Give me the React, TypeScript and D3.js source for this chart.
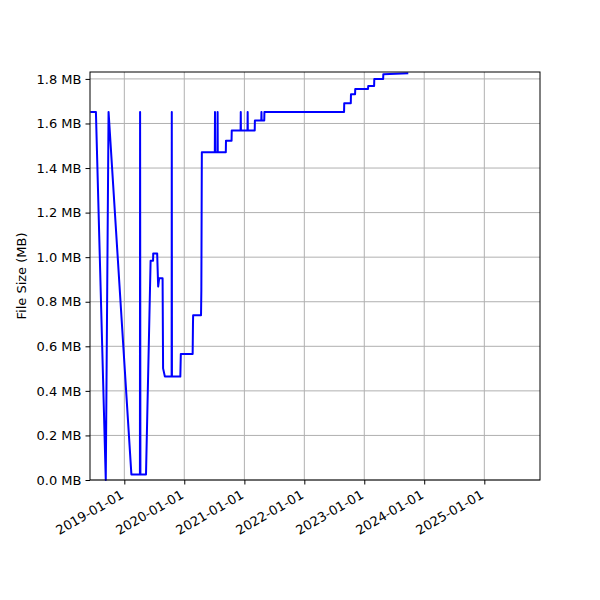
import { useEffect, useRef } from "react";
import * as d3 from "d3";

// file size history
const dates = [
  "2018-06-08", "2018-07-12", "2018-09-10", "2018-09-27", "2019-02-13",
  "2019-04-06", "2019-04-07", "2019-04-09", "2019-05-13", "2019-06-10",
  "2019-06-25", "2019-06-26", "2019-07-20", "2019-07-26", "2019-08-01",
  "2019-08-22", "2019-08-25", "2019-09-05", "2019-10-16", "2019-10-17",
  "2019-10-18", "2019-12-08", "2019-12-11", "2020-02-21", "2020-02-23",
  "2020-02-24", "2020-04-12", "2020-04-14", "2020-04-17", "2020-07-05",
  "2020-07-06", "2020-07-07", "2020-07-21", "2020-07-22", "2020-07-23",
  "2020-09-10", "2020-09-11", "2020-10-15", "2020-10-16", "2020-12-09",
  "2020-12-10", "2020-12-11", "2021-01-20", "2021-01-21", "2021-01-22",
  "2021-03-05", "2021-03-06", "2021-04-14", "2021-04-15", "2021-04-16",
  "2021-05-02", "2021-05-03", "2022-08-31", "2022-09-01", "2022-10-11",
  "2022-10-12", "2022-11-06", "2022-11-07", "2023-01-24", "2023-01-25",
  "2023-03-02", "2023-03-03", "2023-04-26", "2023-04-27", "2023-09-26",
];
const sizesMB = [
  1.652, 1.652, 0.0, 1.652, 0.025,
  0.025, 1.652, 0.025, 0.025, 0.984,
  0.984, 1.017, 1.017, 0.868, 0.905,
  0.905, 0.501, 0.464, 0.464, 1.652,
  0.464, 0.464, 0.566, 0.566, 0.7,
  0.739, 0.739, 0.853, 1.471, 1.471,
  1.652, 1.471, 1.471, 1.652, 1.471,
  1.471, 1.523, 1.523, 1.568, 1.568,
  1.652, 1.568, 1.568, 1.652, 1.568,
  1.568, 1.613, 1.613, 1.652, 1.613,
  1.613, 1.652, 1.652, 1.691, 1.691,
  1.731, 1.731, 1.755, 1.755, 1.768,
  1.768, 1.8, 1.8, 1.821, 1.825,
];
const xDomain = ["2018-06-06", "2025-12-06"];
const yMax = 1.831;
const yTicks = [0, 0.2, 0.4, 0.6, 0.8, 1.0, 1.2, 1.4, 1.6, 1.8];
const yLabel = "File Size (MB)";

const App = () => {
  const ref = useRef<SVGSVGElement>(null);

  useEffect(() => {
    const margin = { top: 72, right: 60, bottom: 120, left: 90 };
    const width = 600 - margin.left - margin.right;
    const height = 600 - margin.top - margin.bottom;
    const parse = d3.utcParse("%Y-%m-%d");
    const font = "DejaVu Sans, sans-serif";
    const fontSize = 13;

    const svg = d3.select(ref.current);
    svg.selectAll("*").remove();
    const g = svg
      .append("g")
      .attr("transform", `translate(${margin.left},${margin.top})`);

    const x = d3
      .scaleUtc()
      .domain(xDomain.map((d) => parse(d)!))
      .range([0, width]);
    const y = d3.scaleLinear().domain([0, yMax]).range([height, 0]);

    const xTicks = d3.utcYear.range(
      parse("2019-01-01")!,
      parse("2025-06-01")!,
    );

    // grid
    g.append("g")
      .selectAll("line")
      .data(xTicks)
      .enter()
      .append("line")
      .attr("x1", (d) => x(d))
      .attr("x2", (d) => x(d))
      .attr("y1", 0)
      .attr("y2", height)
      .style("stroke", "#b0b0b0")
      .style("stroke-width", 1);
    g.append("g")
      .selectAll("line")
      .data(yTicks)
      .enter()
      .append("line")
      .attr("x1", 0)
      .attr("x2", width)
      .attr("y1", (d) => y(d))
      .attr("y2", (d) => y(d))
      .style("stroke", "#b0b0b0")
      .style("stroke-width", 1);

    // the line
    const points = dates.map((d, i) => ({ date: parse(d)!, value: sizesMB[i] }));
    const line = d3
      .line<{ date: Date; value: number }>()
      .x((d) => x(d.date))
      .y((d) => y(d.value));
    g.append("path")
      .datum(points)
      .attr("d", line)
      .style("fill", "none")
      .style("stroke", "#0000ff")
      .style("stroke-width", 2)
      .style("stroke-linejoin", "round");

    // y axis
    const yAxis = g
      .append("g")
      .call(
        d3
          .axisLeft(y)
          .tickValues(yTicks)
          .tickSize(4.5)
          .tickPadding(4)
          .tickFormat((d) => `${(+d).toFixed(1)} MB`),
      );
    yAxis.select(".domain").remove();
    yAxis
      .selectAll("text")
      .style("font-family", font)
      .style("font-size", `${fontSize}px`)
      .style("fill", "#000");

    // x axis
    const xAxis = g
      .append("g")
      .attr("transform", `translate(0,${height})`)
      .call(
        d3
          .axisBottom(x)
          .tickValues(xTicks)
          .tickSize(4.5)
          .tickFormat(d3.utcFormat("%Y-%m-%d") as any),
      );
    xAxis.select(".domain").remove();
    xAxis
      .selectAll("text")
      .attr("y", 0)
      .attr("dy", "0.75em")
      .attr("transform", "translate(-5,9) rotate(-30)")
      .style("text-anchor", "end")
      .style("font-family", font)
      .style("font-size", `${fontSize}px`)
      .style("fill", "#000");

    // frame
    g.append("rect")
      .attr("x", 0)
      .attr("y", 0)
      .attr("width", width)
      .attr("height", height)
      .style("fill", "none")
      .style("stroke", "#000")
      .style("stroke-width", 1);

    // y label
    svg
      .append("text")
      .attr("transform", `translate(22,${margin.top + height / 2}) rotate(-90)`)
      .attr("text-anchor", "middle")
      .attr("dominant-baseline", "middle")
      .style("font-family", font)
      .style("font-size", `${fontSize}px`)
      .text(yLabel);
  }, []);

  return (
    <svg
      ref={ref}
      width={600}
      height={600}
      style={{ position: "absolute", left: 0, top: 0, background: "#fff" }}
    />
  );
};

export default App;
